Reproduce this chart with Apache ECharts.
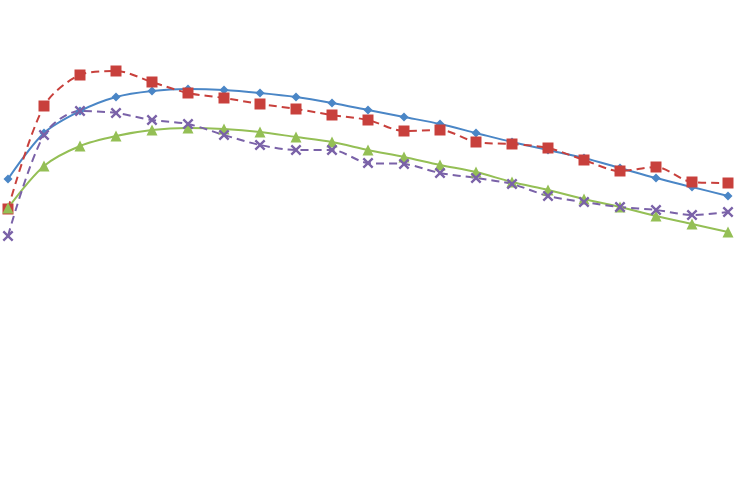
<!DOCTYPE html>
<html><head><meta charset="utf-8">
<script src="https://cdn.jsdelivr.net/npm/echarts@6/dist/echarts.min.js"></script>
<style>html,body{margin:0;padding:0;background:#fff}#c{width:741px;height:479px}</style>
</head><body><div id="c"></div>
<script>
const categories = ['1','2','3','4','5','6','7','8','9','10','11','12','13','14','15','16','17','18','19','20','21'];
const seriesBlue = [11.05,13.35,14.45,15.15,15.45,15.55,15.5,15.35,15.15,14.85,14.5,14.15,13.8,13.35,12.9,12.5,12.1,11.6,11.1,10.65,10.2];
const seriesRed = [9.55,14.7,16.25,16.45,15.9,15.35,15.1,14.8,14.55,14.25,14.0,13.45,13.5,12.9,12.8,12.6,12.0,11.45,11.65,10.9,10.85];
const seriesGreen = [9.6,11.7,12.7,13.2,13.5,13.6,13.55,13.4,13.15,12.9,12.5,12.15,11.75,11.4,10.9,10.5,10.05,9.65,9.2,8.8,8.4];
const seriesPurple = [8.2,13.25,14.45,14.35,14.0,13.8,13.25,12.75,12.5,12.5,11.85,11.8,11.35,11.1,10.8,10.2,9.9,9.65,9.5,9.25,9.4];

const xSym = 'path://M0,1.5L1.5,0L5,3.5L8.5,0L10,1.5L6.5,5L10,8.5L8.5,10L5,6.5L1.5,10L0,8.5L3.5,5Z';
const chart = echarts.init(document.getElementById('c'));
chart.setOption({
  animation: false,
  grid: {left: 8, right: 13, top: 40, bottom: 79},
  xAxis: {type: 'category', data: categories, boundaryGap: false, show: false},
  yAxis: {type: 'value', min: 0, max: 18, show: false},
  series: [
    {name: 'A', type: 'line', data: seriesBlue, smooth: 0.3, symbol: 'diamond', symbolSize: 9,
     lineStyle: {color: '#4A86C6', width: 2}, itemStyle: {color: '#4A86C6'}},
    {name: 'B', type: 'line', data: seriesRed, smooth: 0.3, symbol: 'rect', symbolSize: 11,
     lineStyle: {color: '#C8403C', width: 2, type: [8, 5]}, itemStyle: {color: '#C8403C'}},
    {name: 'C', type: 'line', data: seriesGreen, smooth: 0.3, symbol: 'triangle', symbolSize: 11,
     lineStyle: {color: '#94BF55', width: 2}, itemStyle: {color: '#94BF55'}},
    {name: 'D', type: 'line', data: seriesPurple, smooth: 0.3, symbol: xSym, symbolSize: 11,
     lineStyle: {color: '#7A62A8', width: 2, type: [8, 5]}, itemStyle: {color: '#7A62A8'}}
  ]
});
</script></body></html>
